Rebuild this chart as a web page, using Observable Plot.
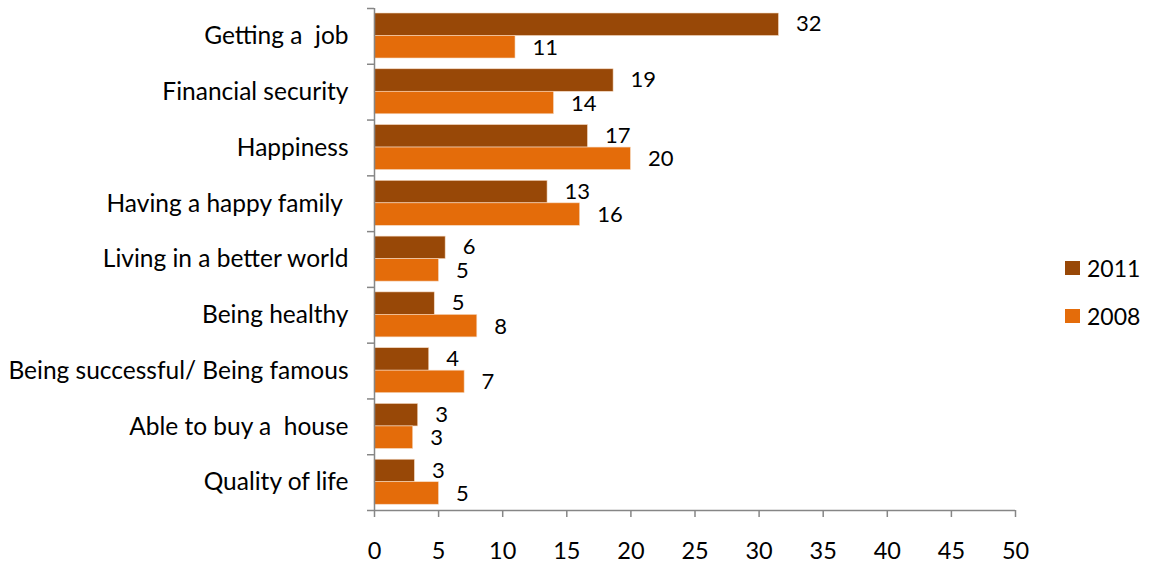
<!DOCTYPE html>
<html>
<head>
<meta charset="utf-8">
<script src="https://cdn.jsdelivr.net/npm/d3@7"></script>
<script src="https://cdn.jsdelivr.net/npm/@observablehq/plot@0.6"></script>
<style>
  html, body { margin: 0; padding: 0; background: #fff; }
  #wrap { position: relative; width: 1150px; height: 564px; font-family: Lato, "Open Sans", sans-serif; }
  #wrap svg text { white-space: pre; }
  .legend { position: absolute; left: 1065px; font-size: 23px; line-height: 28px; color: #000; display: flex; align-items: center; }
  .legend span.sw { display: inline-block; width: 15px; height: 14px; margin-right: 7px; }
</style>
</head>
<body>
<div id="wrap"></div>
<script>
const categories = ["Getting a  job", "Financial security", "Happiness", "Having a happy family ", "Living in a better world", "Being healthy", "Being successful/ Being famous", "Able to buy a  house", "Quality of life"];
const values2011 = [31.55, 18.65, 16.65, 13.5, 5.55, 4.7, 4.27, 3.41, 3.15];
const values2008 = [11.0, 14.0, 20.0, 16.04, 5.03, 8.02, 7.03, 3.02, 5.03];
const labels2011 = ["32", "19", "17", "13", "6", "5", "4", "3", "3"];
const labels2008 = ["11", "14", "20", "16", "5", "8", "7", "3", "5"];
const xTicks = [0, 5, 10, 15, 20, 25, 30, 35, 40, 45, 50];
const years = ["2011", "2008"];

const color2011 = "#984807";
const color2008 = "#E46C0A";
const axisColor = "#868686";

const data2011 = categories.map((c, i) => ({category: c, value: values2011[i], label: labels2011[i]}));
const data2008 = categories.map((c, i) => ({category: c, value: values2008[i], label: labels2008[i]}));

const W = 1150, H = 564, mTop = 8, mBottom = 54, mLeft = 374, mRight = 135;
const band = (H - mTop - mBottom) / categories.length;
const barH = 22.5, pad = 5;
const fsCat = 24.5, fsVal = 22, fsTick = 23.5;

const chart = Plot.plot({
  width: W, height: H,
  marginTop: mTop, marginBottom: mBottom, marginLeft: mLeft, marginRight: mRight,
  style: {fontFamily: "Lato, 'Open Sans', sans-serif", fontSize: fsTick + "px", color: "#000", background: "#fff", overflow: "visible"},
  x: {domain: [0, 50], label: null},
  y: {domain: categories, padding: 0, round: false, label: null},
  marks: [
    Plot.barX(data2011, {x: "value", y: "category", fill: color2011, stroke: "#f6d9c0", strokeWidth: 0.6,
      insetTop: pad, insetBottom: band - pad - barH}),
    Plot.barX(data2008, {x: "value", y: "category", fill: color2008, stroke: "#f6d9c0", strokeWidth: 0.6,
      insetTop: pad + barH, insetBottom: band - pad - 2 * barH}),
    Plot.text(data2011, {x: "value", y: "category", text: "label", textAnchor: "start", dx: 17,
      dy: -band / 2 + pad + barH / 2 - 0.5, fill: "#000", fontSize: fsVal}),
    Plot.text(data2008, {x: "value", y: "category", text: "label", textAnchor: "start", dx: 17,
      dy: -band / 2 + pad + 1.5 * barH + 0.5, fill: "#000", fontSize: fsVal}),
    Plot.ruleX([0], {stroke: axisColor, strokeWidth: 1.5}),
    Plot.axisY({ticks: categories, tickSize: 7, text: null, dy: -band / 2, stroke: axisColor, strokeWidth: 1.5}),
    Plot.tickY([categories[categories.length - 1]], {y: d => d, dy: band / 2, insetLeft: -7, stroke: axisColor, strokeWidth: 1.5}),
    Plot.axisY({ticks: categories, tickSize: 0, tickPadding: 26, fill: "#000", fontSize: fsCat}),
    Plot.axisX({ticks: xTicks, tickSize: 7, tickPadding: 25, stroke: axisColor, strokeWidth: 1.5, fill: "#000", fontSize: fsTick})
  ]
});

const wrap = document.getElementById("wrap");
wrap.appendChild(chart);

const legendItems = [{year: years[0], color: color2011, top: 254}, {year: years[1], color: color2008, top: 302}];
for (const it of legendItems) {
  const d = document.createElement("div");
  d.className = "legend";
  d.style.top = it.top + "px";
  d.innerHTML = `<span class="sw" style="background:${it.color}"></span><span>${it.year}</span>`;
  wrap.appendChild(d);
}
</script>
</body>
</html>
